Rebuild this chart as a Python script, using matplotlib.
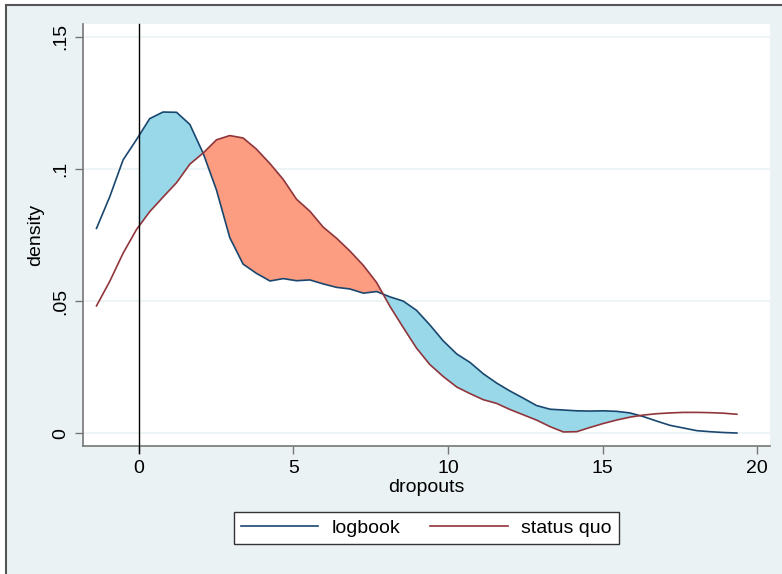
import numpy as np
import matplotlib
matplotlib.use("Agg")
import matplotlib.pyplot as plt
from matplotlib.patches import Rectangle

plt.rcParams["font.family"] = ["Liberation Sans", "DejaVu Sans"]

# kernel density estimates
dropouts = [-1.37, -0.94, -0.51, -0.08, 0.35, 0.78, 1.22, 1.65, 2.08, 2.51,
            2.94, 3.37, 3.80, 4.24, 4.67, 5.10, 5.53, 5.96, 6.39, 6.82,
            7.26, 7.69, 8.12, 8.55, 8.98, 9.41, 9.84, 10.28, 10.71, 11.14,
            11.57, 12.00, 12.43, 12.86, 13.30, 13.73, 14.16, 14.59, 15.02, 15.45,
            15.88, 16.32, 16.75, 17.18, 17.61, 18.04, 18.47, 18.90, 19.34]
logbook = [0.0775, 0.0895, 0.1034, 0.1110, 0.1190, 0.1215, 0.1214, 0.1168, 0.1059, 0.0920,
           0.0740, 0.0640, 0.0605, 0.0576, 0.0585, 0.0577, 0.0580, 0.0565, 0.0552, 0.0546,
           0.0530, 0.0536, 0.0516, 0.0500, 0.0465, 0.0410, 0.0350, 0.0300, 0.0268, 0.0225,
           0.0190, 0.0160, 0.0133, 0.0105, 0.0091, 0.0088, 0.0085, 0.0084, 0.0085, 0.0083,
           0.0077, 0.0063, 0.0046, 0.0030, 0.0020, 0.0010, 0.0006, 0.0003, 0.0001]
status_quo = [0.0482, 0.0575, 0.0681, 0.0770, 0.0838, 0.0893, 0.0948, 0.1018, 0.1060, 0.1110,
              0.1126, 0.1117, 0.1075, 0.1020, 0.0960, 0.0885, 0.0840, 0.0780, 0.0738, 0.0690,
              0.0635, 0.0570, 0.0480, 0.0400, 0.0322, 0.0260, 0.0215, 0.0175, 0.0150, 0.0127,
              0.0113, 0.0090, 0.0070, 0.0050, 0.0025, 0.0005, 0.0006, 0.0022, 0.0037, 0.0050,
              0.0061, 0.0069, 0.0074, 0.0077, 0.0079, 0.0079, 0.0078, 0.0076, 0.0072]
fill_start, fill_end = 0.0, 16.3

x = np.array(dropouts)
a = np.array(logbook)
b = np.array(status_quo)

bg = "#EAF2F3"
fig = plt.figure(figsize=(7.82, 5.74), dpi=100, facecolor="white")
fig.patches.append(Rectangle((5.5 / 782, -0.1), 1.2, 1 - 4.5 / 574 + 0.1,
                             transform=fig.transFigure, facecolor=bg,
                             edgecolor="#555555", linewidth=1.5, zorder=-5))
ax = fig.add_axes([0.106, 0.2235, 0.879, 0.7347])
ax.set_facecolor("white")

# shade the gap between the two densities from 0 to where they cross at the tail
m = (x > fill_start) & (x < fill_end)
fx = np.concatenate([[fill_start], x[m], [fill_end]])
fa = np.interp(fx, x, a)
fb = np.interp(fx, x, b)
ax.fill_between(fx, fa, fb, where=fa >= fb, interpolate=True,
                color="#98D8E8", linewidth=0, zorder=2)
ax.fill_between(fx, fa, fb, where=fb >= fa, interpolate=True,
                color="#FC9C81", linewidth=0, zorder=2)

l1, = ax.plot(x, a, color="#1A476F", lw=1.2, zorder=3, label="logbook")
l2, = ax.plot(x, b, color="#90353B", lw=1.2, zorder=3, label="status quo")
ax.axvline(0, ymin=-0.018, ymax=1, color="black", lw=1, zorder=4, clip_on=False)

ax.set_xlim(-1.81, 20.42)
ax.set_ylim(-0.0047, 0.1548)
ax.set_xticks([0, 5, 10, 15, 20])
ax.set_yticks([0, 0.05, 0.1, 0.15])
ax.set_yticklabels(["0", ".05", ".1", ".15"], rotation=90, va="center")
ax.grid(axis="y", color=bg, lw=1.2, zorder=0)
ax.set_axisbelow(True)
for s in ["top", "right"]:
    ax.spines[s].set_visible(False)
for s in ["left", "bottom"]:
    ax.spines[s].set_color("#777777")
    ax.spines[s].set_linewidth(1.2)
ax.tick_params(length=6, width=1, color="#777777", labelsize=14, pad=4)
ax.set_xlabel("dropouts", fontsize=14, labelpad=2)
ax.set_ylabel("density", fontsize=14, labelpad=6)

fig.legend(handles=[l1, l2], loc="center", bbox_to_anchor=(0.545, 0.080), ncol=2,
           fontsize=14, frameon=True, fancybox=False, edgecolor="#333333",
           framealpha=1, handlelength=4.0, handletextpad=0.7, columnspacing=1.5,
           borderpad=0.35)

fig.savefig("out.png", dpi=100, facecolor=fig.get_facecolor())
